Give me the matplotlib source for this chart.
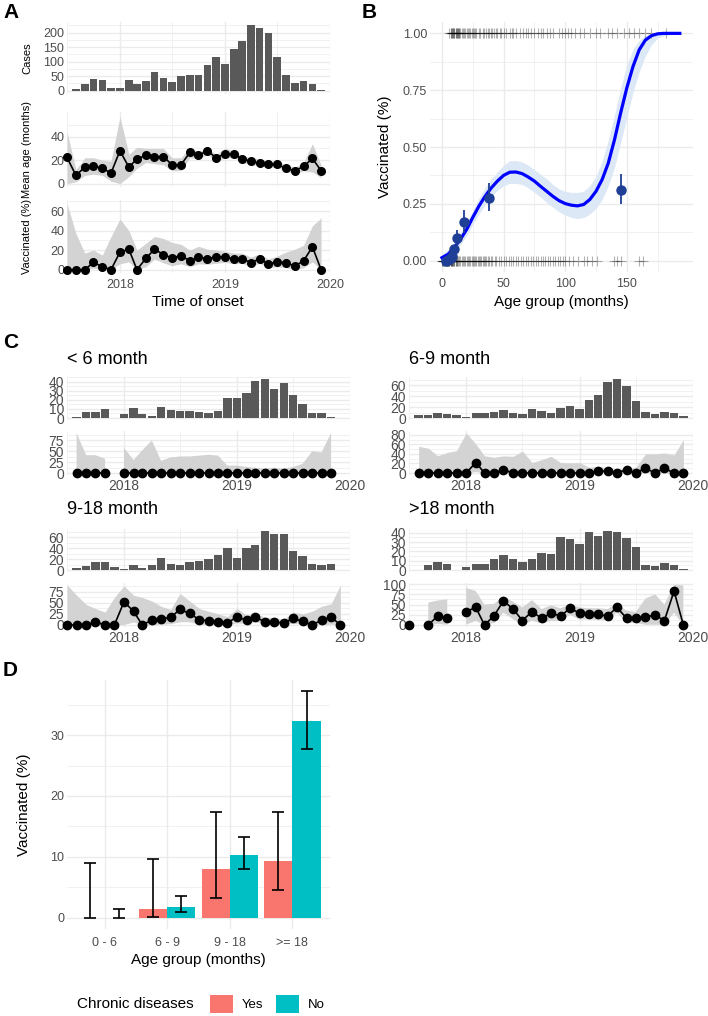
import matplotlib
matplotlib.use("Agg")
import matplotlib.pyplot as plt
import matplotlib.dates as mdates
from matplotlib.ticker import MultipleLocator, FixedLocator, FormatStrFormatter
from matplotlib.patches import Patch
import numpy as np
import pandas as pd

plt.rcParams["font.family"] = ["Liberation Sans", "DejaVu Sans"]

# ---------------- data ----------------
months = pd.date_range("2017-07-01", "2019-12-01", freq="MS")   # 30 months

# panel A (Jul 2017 bar is cut by the axis limit)
a_cases = [np.nan, 7, 23, 39, 37, 9, 9, 37, 22, 34, 64, 44, 31, 51, 55, 53, 90, 116, 91,
           143, 170, 225, 215, 197, 116, 55, 26, 34, 24, 3]
a_age = [22.3, 7, 14, 15, 13, 9, 28, 14, 21, 24, 23, 23, 16, 16, 26.5, 24, 28, 22, 25.4, 25,
         21, 19, 17.4, 16.3, 16.3, 13, 11, 14.6, 21.4, 11]
a_age_lo = [0, 1.5, 7, 8, 7, 2, 0, 6, 13, 18, 17, 16, 11, 11, 22, 21, 25, 19, 22, 22,
            18, 16.5, 15, 14, 14, 10.5, 8.5, 11, 10, 5]
a_age_hi = [44, 12, 22, 22, 20, 19, 57, 25, 31, 30, 30, 30, 22, 22, 31, 27, 30, 25, 30, 28,
            24, 22, 21, 19, 19, 16, 14, 18, 34, 16]
a_vac = [0, 0, 0, 7.5, 3, 0, 18, 21, 0, 11.5, 21, 15.5, 12, 14.5, 9, 12.8, 11.4, 12.8, 13, 11,
         11.4, 7.2, 11, 6, 8, 7.2, 3.8, 9, 23.4, 0]
a_vac_lo = [0, 0, 0, 1.5, 0, 0, 6, 8, 0, 3, 11, 7, 4, 6, 3, 6, 5.5, 6.5, 7.5, 6,
            6.5, 3.5, 6.5, 2, 3, 2, 0, 2, 8, 0]
a_vac_hi = [68, 37, 17, 20, 15, 34, 52, 40, 20, 27, 34, 32, 28, 26, 20, 24, 21, 20, 19, 17,
            17, 13, 16, 11, 14, 18, 21, 25, 45, 53]

# panel B
b_age = [0, 5, 10, 15, 20, 25, 30, 35, 40, 45, 50, 55, 60, 65, 70, 75, 80, 85, 90, 95, 100,
         105, 110, 115, 120, 125, 130, 135, 140, 145, 150, 155, 160, 165, 170, 175, 180, 185, 193]
b_fit = [0.013, 0.028, 0.057, 0.094, 0.137, 0.19, 0.24, 0.283, 0.32, 0.35, 0.375, 0.389, 0.39,
         0.383, 0.368, 0.35, 0.327, 0.305, 0.283, 0.264, 0.251, 0.244, 0.241, 0.247, 0.269,
         0.305, 0.357, 0.43, 0.532, 0.65, 0.76, 0.854, 0.927, 0.97, 0.99, 0.998, 1.0, 1.0, 1.0]
b_fit_lo = [0.004, 0.014, 0.038, 0.07, 0.11, 0.16, 0.205, 0.245, 0.28, 0.31, 0.33, 0.34, 0.34,
            0.335, 0.32, 0.30, 0.28, 0.255, 0.235, 0.215, 0.2, 0.19, 0.185, 0.19, 0.205,
            0.23, 0.27, 0.33, 0.41, 0.52, 0.63, 0.74, 0.83, 0.9, 0.95, 0.98, 0.99, 0.995, 1.0]
b_fit_hi = [0.03, 0.05, 0.08, 0.12, 0.17, 0.22, 0.275, 0.32, 0.36, 0.39, 0.42, 0.44, 0.44,
            0.435, 0.42, 0.40, 0.38, 0.36, 0.335, 0.315, 0.305, 0.3, 0.3, 0.305, 0.33,
            0.37, 0.44, 0.53, 0.64, 0.76, 0.86, 0.93, 0.97, 0.99, 1.0, 1.0, 1.0, 1.0, 1.0]
b_pt_age = [3, 5, 7, 8, 10, 12, 18, 38, 145]
b_pt_vac = [0.0, 0.004, 0.01, 0.02, 0.053, 0.10, 0.17, 0.276, 0.313]
b_pt_lo = [0, 0, 0, 0.005, 0.035, 0.064, 0.123, 0.218, 0.25]
b_pt_hi = [0.01, 0.015, 0.025, 0.04, 0.07, 0.137, 0.225, 0.342, 0.38]
b_rug_yes = [6, 7, 7, 8, 8, 9, 9, 10, 10, 11, 11, 12, 12, 13, 13, 14, 14, 15, 16, 17, 18, 19, 20,
             21, 22, 23, 24, 25, 26, 27, 28, 30, 31, 33, 34, 36, 37, 38, 40, 41, 42, 44, 45,
             47, 48, 50, 52, 55, 57, 58, 60, 63, 66, 68, 70, 72, 75, 78, 80, 82, 85, 88, 90,
             95, 97, 100, 102, 105, 108, 112, 115, 120, 125, 128, 135, 138, 142, 148, 152,
             156, 160, 165, 170, 182]
b_rug_no = [0, 0, 1, 1, 2, 2, 3, 3, 3, 4, 4, 5, 5, 5, 6, 6, 6, 7, 7, 7, 8, 8, 8, 9, 9, 10, 10,
            11, 11, 12, 12, 13, 14, 15, 16, 17, 18, 19, 20, 21, 22, 23, 24, 25, 26, 27, 28, 29,
            30, 31, 32, 33, 34, 35, 36, 37, 38, 40, 41, 43, 44, 46, 48, 50, 52, 54, 56, 58, 60,
            62, 64, 66, 68, 70, 72, 74, 76, 78, 80, 82, 84, 86, 88, 90, 92, 94, 96, 98, 100,
            103, 106, 110, 115, 118, 122, 126, 140, 142, 145, 160, 163]

# panel C: per age group, Jul 2017 .. Dec 2019
nan = np.nan
c_titles = ["< 6 month", "6-9 month", "9-18 month", ">18 month"]
c_cases = [
    [nan, 1, 7, 7, 10, nan, 4, 11, 4, 2, 12, 9, 8, 8, 7, 6, 8, 22, 22, 27, 41, 43, 32, 38, 25,
     15, 6, 6, 1, nan],
    [nan, 5, 5, 9, 7, 6, 2, 9, 9, 12, 14, 10, 7, 17, 13, 10, 19, 22, 17, 33, 43, 66, 72, 59,
     32, 12, 8, 11, 9, 3],
    [nan, 3, 7, 15, 15, 5, 2, 10, 4, 9, 22, 12, 9, 15, 17, 21, 28, 40, 22, 40, 47, 72, 67, 66,
     35, 25, 11, 10, 11, 1],
    [nan, nan, 5, 9, 6, nan, 3, 7, 6, 12, 16, 12, 9, 12, 18, 17, 35, 33, 28, 41, 37, 42, 41,
     34, 25, 5, 4, 8, 5, 1],
]
c_vac = [
    [nan, 0, 0, 0, 0, nan, 0, 0, 0, 0, 0, 0, 0, 0, 0, 0, 0, 0, 0, 0, 0, 0, 0, 0, 0, 0, 0, 0, 0, nan],
    [nan, 0, 0, 0, 0, 0, 0, 22, 0, 0, 7, 0, 0, 0, 0, 0, 0, 0, 0, 0, 4, 4, 0, 7, 0, 10, 0, 10, 0, 0],
    [0, 0, 0, 7, 0, 0, 52, 31, 0, 11, 13, 17.5, 35, 26, 12, 9, 7.5, 5, 18, 11, 18, 7, 7, 4, 15,
     8, 0, 11, 18, 0],
    [0, nan, 0, 22, 17, nan, 33, 43, 0, 23, 59, 39, 11, 33, 16, 29, 22, 41, 29, 26, 26, 22, 43,
     17, 16, 20, 24, 11, 83, 0],
]
c_vac_lo = [
    [nan, 0, 0, 0, 0, nan, 0, 0, 0, 0, 0, 0, 0, 0, 0, 0, 0, 0, 0, 0, 0, 0, 0, 0, 0, 0, 0, 0, 0, nan],
    [nan, 0, 0, 0, 0, 0, 0, 3, 0, 0, 0.2, 0, 0, 0, 0, 0, 0, 0, 0, 0, 0.6, 1, 0, 2, 0, 0.2, 0,
     0.2, 0, 0],
    [0, 0, 0, 0.2, 0, 0, 1.3, 7, 0, 0.3, 1.6, 3, 7.5, 7, 1.5, 1, 1, 0.6, 5, 3, 7.5, 2, 2, 0.5,
     4, 1, 0, 0.2, 2, 0],
    [0, nan, 0, 3, 0.5, nan, 1, 10, 0, 5, 30, 14, 0.3, 10, 4, 10, 10, 25, 13, 14, 12, 12, 30,
     7, 5, 0.5, 0.6, 0.3, 30, 0],
]
c_vac_hi = [
    [nan, 92, 41, 41, 33, nan, 58, 30, 52, 75, 28, 36, 38, 38, 40, 42, 40, 17, 17, 14, 12, 10,
     12, 10, 14, 21, 50, 47, 92, nan],
    [nan, 56, 52, 36, 43, 47, 84, 61, 36, 33, 36, 35, 46, 22, 28, 35, 22, 21, 22, 12, 14, 10,
     8, 10, 12, 40, 40, 42, 38, 70],
    [90, 67, 46, 37, 29, 62, 88, 67, 62, 54, 42, 35, 71, 54, 37, 31, 25, 19, 37, 22, 27.5, 17,
     17, 12.5, 29, 25, 31, 42, 47.5, 90],
    [97, nan, 55, 60, 63, nan, 91, 83, 50, 52, 70, 57, 43, 61, 39, 48, 41, 50, 43, 41, 41, 39,
     52, 35, 32, 65, 75, 50, 98, 97],
]
c_bar_step = [10, 20, 20, 10]
c_vac_step = [25, 20, 25, 25]

# panel D
d_groups = ["0 - 6", "6 - 9", "9 - 18", ">= 18"]
d_yes = [0, 1.5, 8.0, 9.3]
d_yes_lo = [0, 0.05, 3.3, 4.6]
d_yes_hi = [9.0, 9.7, 17.4, 17.4]
d_no = [0, 1.8, 10.3, 32.3]
d_no_lo = [0, 0.9, 8.0, 27.7]
d_no_hi = [1.4, 3.6, 13.2, 37.2]

# ---------------- figure ----------------
W, H = 708, 1016
fig = plt.figure(figsize=(W / 100, H / 100), dpi=100)
TXT = "#4D4D4D"
BAR = "#595959"
BAND = "#D3D3D3"
X0, X1 = pd.Timestamp("2017-07-01"), pd.Timestamp("2020-01-01")


def px_axes(left, top, right, bottom):
    return fig.add_axes([left / W, 1 - bottom / H, (right - left) / W, (bottom - top) / H])


def tidy(ax, fs=9):
    for s in ax.spines.values():
        s.set_visible(False)
    ax.set_axisbelow(True)
    ax.grid(which="major", color="#EBEBEB", lw=1.0)
    ax.grid(which="minor", color="#EBEBEB", lw=0.5)
    ax.tick_params(which="both", length=0, labelsize=fs, labelcolor=TXT, pad=2)
    ax.tick_params(axis="x", pad=4)
    ax.use_sticky_edges = False
    ax.margins(y=0.05)


def date_axis(ax, labels):
    ax.set_xlim(X0, X1)
    ax.xaxis.set_major_locator(mdates.YearLocator())
    ax.xaxis.set_minor_locator(mdates.MonthLocator(bymonth=7))
    ax.xaxis.set_major_formatter(mdates.DateFormatter("%Y"))
    if not labels:
        ax.tick_params(axis="x", labelbottom=False)


def bars(ax, vals):
    v = np.array(vals, dtype=float)
    ok = ~np.isnan(v)
    ax.bar(months[ok], v[ok], width=27, color=BAR)


def trend(ax, vals, lo, hi, ms=5.5):
    ax.fill_between(months, lo, hi, color=BAND, lw=0)
    ax.plot(months, vals, "-o", color="black", ms=ms, lw=1.2, clip_on=False, zorder=3)


def fig_text(x, y, s, **kw):
    fig.text(x / W, 1 - y / H, s, **kw)


# ----- A -----
ax = px_axes(67, 22, 330, 94)
tidy(ax, 9)
bars(ax, a_cases)
date_axis(ax, False)
ax.yaxis.set_major_locator(MultipleLocator(50))
ax.yaxis.set_minor_locator(MultipleLocator(25))

ax = px_axes(67, 112, 330, 187)
tidy(ax, 9)
trend(ax, a_age, a_age_lo, a_age_hi)
date_axis(ax, False)
ax.set_ylim(-2.9, 61)
ax.yaxis.set_major_locator(FixedLocator([0, 20, 40]))
ax.yaxis.set_minor_locator(FixedLocator([10, 30, 50]))

ax = px_axes(67, 200, 330, 273)
tidy(ax, 9)
trend(ax, a_vac, a_vac_lo, a_vac_hi)
date_axis(ax, True)
ax.yaxis.set_major_locator(MultipleLocator(20))
ax.yaxis.set_minor_locator(MultipleLocator(10))

fig_text(27, 58, "Cases", rotation=90, ha="center", va="center", fontsize=8)
fig_text(27, 150, "Mean age (months)", rotation=90, ha="center", va="center", fontsize=8)
fig_text(27, 236, "Vaccinated (%)", rotation=90, ha="center", va="center", fontsize=8)
fig_text(198, 302, "Time of onset", ha="center", va="center", fontsize=11)

# ----- B -----
ax = px_axes(430, 22, 693, 272)
tidy(ax, 9)
ax.fill_between(b_age, b_fit_lo, b_fit_hi, color="#DCE8F6", lw=0)
ax.plot(b_age, b_fit, color="#0000FF", lw=2.3, zorder=3)
ax.plot(b_rug_yes, np.ones(len(b_rug_yes)), ls="none", marker="+", ms=7, mew=0.8,
        color="black", alpha=0.3)
ax.plot(b_rug_no, np.zeros(len(b_rug_no)), ls="none", marker="+", ms=7, mew=0.8,
        color="black", alpha=0.3)
bv = np.array(b_pt_vac)
ax.errorbar(b_pt_age, bv, yerr=[bv - np.array(b_pt_lo), np.array(b_pt_hi) - bv], fmt="o",
            color="#1F3F96", ms=6.5, elinewidth=1.3, zorder=4)
ax.set_xlim(-9.7, 203.7)
ax.set_ylim(-0.05, 1.05)
ax.xaxis.set_major_locator(FixedLocator([0, 50, 100, 150]))
ax.xaxis.set_minor_locator(FixedLocator([25, 75, 125, 175]))
ax.yaxis.set_major_locator(MultipleLocator(0.25))
ax.yaxis.set_minor_locator(MultipleLocator(0.125))
ax.yaxis.set_major_formatter(FormatStrFormatter("%.2f"))
fig_text(385, 147, "Vaccinated (%)", rotation=90, ha="center", va="center", fontsize=11)
fig_text(561, 302, "Age group (months)", ha="center", va="center", fontsize=11)

# ----- C -----
c_pos = [(67, 350, 360), (409, 693, 360), (67, 350, 510), (409, 693, 510)]
for i, (l, r, ty) in enumerate(c_pos):
    top = 377 if i < 2 else 529
    fig_text(l, ty, c_titles[i], ha="left", va="center", fontsize=13)
    ax = px_axes(l, top, r, top + 43)
    tidy(ax, 10)
    bars(ax, c_cases[i])
    date_axis(ax, False)
    ax.yaxis.set_major_locator(MultipleLocator(c_bar_step[i]))
    ax.yaxis.set_minor_locator(MultipleLocator(c_bar_step[i] / 2))
    ax = px_axes(l, top + 54, r, top + 98)
    tidy(ax, 10)
    trend(ax, c_vac[i], c_vac_lo[i], c_vac_hi[i], ms=6)
    date_axis(ax, True)
    ax.tick_params(axis="x", pad=3)
    ax.yaxis.set_major_locator(MultipleLocator(c_vac_step[i]))
    ax.yaxis.set_minor_locator(MultipleLocator(c_vac_step[i] / 2))

# ----- D -----
ax = px_axes(67, 680, 330, 929)
tidy(ax, 9)
x = np.arange(1, 5)
YES_C, NO_C = "#F8766D", "#00BFC4"
ax.bar(x - 0.225, d_yes, width=0.45, color=YES_C)
ax.bar(x + 0.225, d_no, width=0.45, color=NO_C)
for off, v, lo, hi in [(-0.225, d_yes, d_yes_lo, d_yes_hi), (0.225, d_no, d_no_lo, d_no_hi)]:
    v = np.array(v)
    ax.errorbar(x + off, v, yerr=[v - np.array(lo), np.array(hi) - v], fmt="none",
                ecolor="black", elinewidth=1.2, capsize=4.5, capthick=1.2, zorder=4)
ax.set_xlim(0.4, 4.6)
ax.set_ylim(-1.86, 39.06)
ax.set_xticks(x)
ax.set_xticklabels(d_groups)
ax.yaxis.set_major_locator(MultipleLocator(10))
ax.yaxis.set_minor_locator(MultipleLocator(5))
ax.tick_params(axis="x", pad=6)
fig_text(24, 805, "Vaccinated (%)", rotation=90, ha="center", va="center", fontsize=11)
fig_text(198, 960, "Age group (months)", ha="center", va="center", fontsize=11)

fig_text(77, 1004, "Chronic diseases", ha="left", va="center", fontsize=11)
fig.legend([Patch(facecolor=YES_C), Patch(facecolor=NO_C)], ["Yes", "No"], ncol=2,
           loc="center left", bbox_to_anchor=(198 / W, 1 - 1004 / H), frameon=False,
           fontsize=9.5, handlelength=1.75, handleheight=1.75, handletextpad=0.7,
           columnspacing=0.9)

# panel letters
for s, px, py in [("A", 3, 12), ("B", 362, 12), ("C", 3, 342), ("D", 3, 670)]:
    fig_text(px, py, s, ha="left", va="center", fontsize=15, fontweight="bold")

fig.savefig("out.png", dpi=100)
